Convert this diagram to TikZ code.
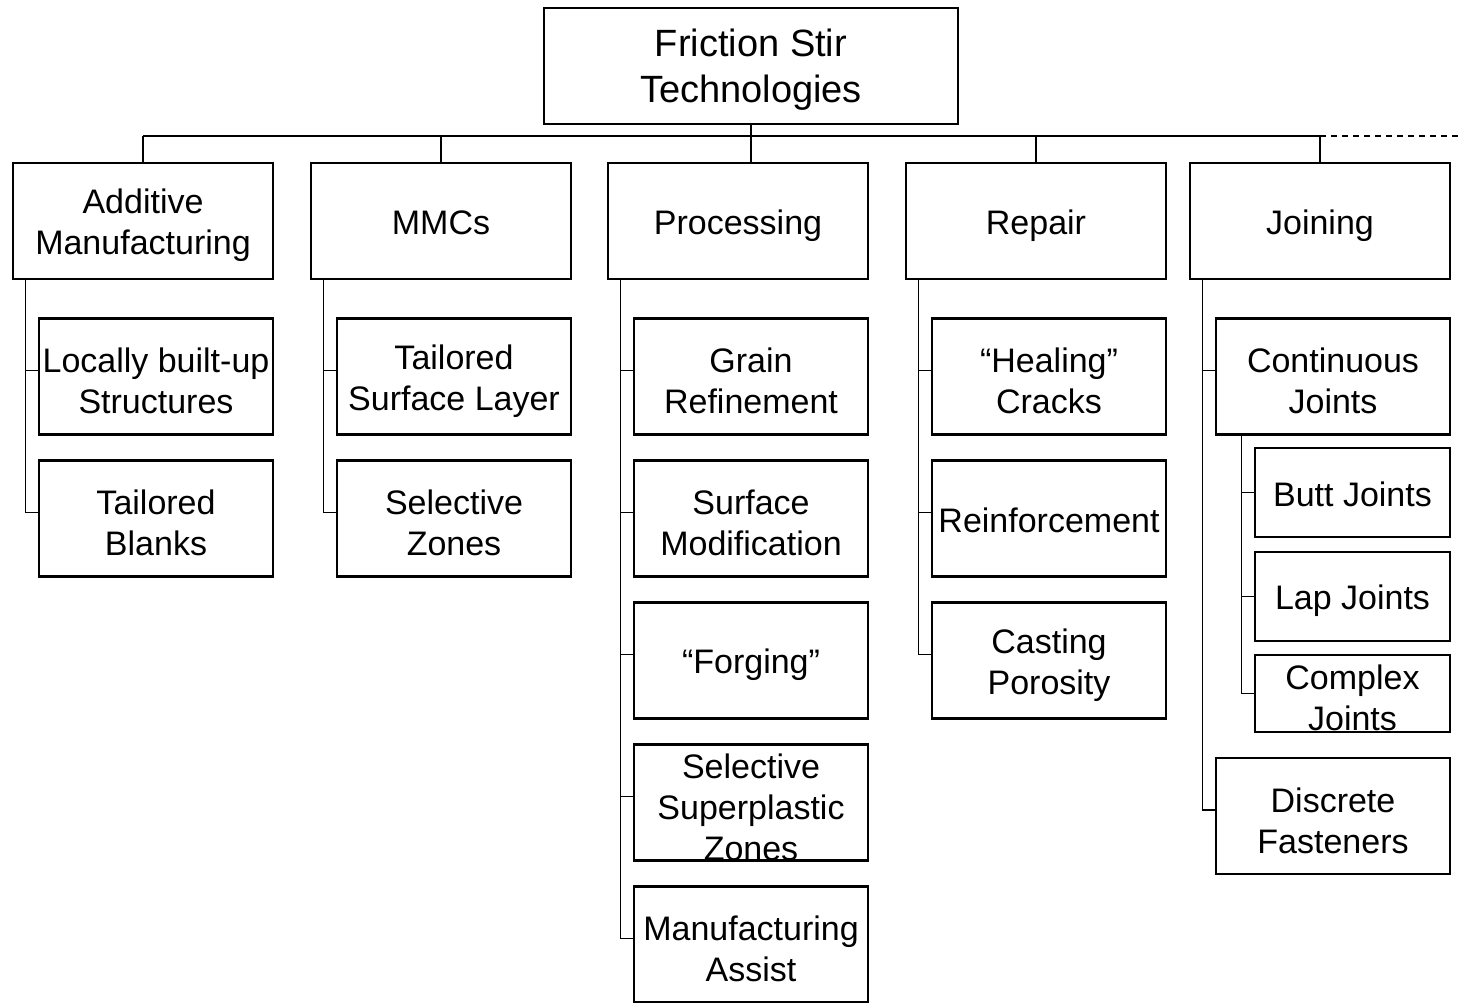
\documentclass[tikz,border=0pt]{standalone}
\usepackage{fontspec}
\setmainfont{Liberation Sans}
\begin{document}
\begin{tikzpicture}[x=1pt,y=-1pt,
  box/.style={draw=black, line width=2.6pt, rectangle, inner sep=0pt, minimum width=234pt, minimum height=116pt},
  topbox/.style={box, minimum width=414pt, minimum height=116pt},
  lvl/.style={box, minimum width=260pt, minimum height=116pt},
  sub/.style={box, minimum width=195pt},
  lbl/.style={inner sep=0pt, align=center, yshift=-4.5pt, font=\fontsize{34}{41}\selectfont},
  flat/.style={lbl, yshift=3pt},
  toplbl/.style={inner sep=0pt, align=center, yshift=-4pt, font=\fontsize{38}{46}\selectfont},
  conn/.style={draw=black, line width=1.3pt}]
\useasboundingbox (0,0) rectangle (1459,1003);
\fill[white] (0,0) rectangle (1459,1003);

% root
\node[topbox, label={[toplbl]center:Friction Stir\\Technologies}] (root) at (751,66) {};

% level 1
\node[lvl, label={[lbl]center:Additive\\Manufacturing}] (am) at (143,221) {};
\node[lvl, label={[flat]center:MMCs}] (mmc) at (441,221) {};
\node[lvl, label={[lbl]center:Processing}] (proc) at (738,221) {};
\node[lvl, label={[lbl]center:Repair}] (rep) at (1036,221) {};
\node[lvl, label={[lbl]center:Joining}] (join) at (1320,221) {};

% additive children
\node[box, label={[lbl]center:Locally built-up\\Structures}] (am1) at (156,376.5) {};
\node[box, label={[lbl]center:Tailored\\Blanks}] (am2) at (156,518.5) {};
% mmc children
\node[box, label={[lbl]center:Tailored\\Surface Layer}] (mmc1) at (454,376.5) {};
\node[box, label={[lbl]center:Selective\\Zones}] (mmc2) at (454,518.5) {};
% processing children
\node[box, label={[lbl]center:Grain\\Refinement}] (pr1) at (751,376.5) {};
\node[box, label={[lbl]center:Surface\\Modification}] (pr2) at (751,518.5) {};
\node[box, label={[lbl]center:“Forging”}] (pr3) at (751,660.5) {};
\node[box, label={[lbl]center:Selective\\Superplastic\\Zones}] (pr4) at (751,802.5) {};
\node[box, label={[lbl]center:Manufacturing\\Assist}] (pr5) at (751,944.5) {};
% repair children
\node[box, label={[lbl]center:“Healing”\\Cracks}] (re1) at (1049,376.5) {};
\node[box, label={[flat]center:Reinforcement}] (re2) at (1049,518.5) {};
\node[box, label={[lbl]center:Casting\\Porosity}] (re3) at (1049,660.5) {};
% joining children
\node[box, label={[lbl]center:Continuous\\Joints}] (jo1) at (1333,376.5) {};
\node[box, label={[lbl]center:Discrete\\Fasteners}] (jo2) at (1333,816) {};
\node[sub, minimum height=89pt, label={[flat]center:Butt Joints}] (js1) at (1352.5,492.5) {};
\node[sub, minimum height=89pt, label={[lbl]center:Lap Joints}] (js2) at (1352.5,596.5) {};
\node[sub, minimum height=77pt, label={[lbl]center:Complex\\Joints}] (js3) at (1352.5,693.5) {};

% top bus
\coordinate (hb) at (751,136);
\coordinate (dashend) at (1459,136);
\draw[conn] (root.south) -- (root.south |- proc.north);
\draw[conn] (am.north |- hb) -- (join.north |- hb);
\draw[conn, dashed, dash pattern=on 6pt off 5pt] (join.north |- hb) -- (dashend);
\foreach \n in {am,mmc,rep,join}
  \draw[conn] (\n.north |- hb) -- (\n.north);

% branch connectors
\draw[conn] ([xshift=14pt]am.south west) |- ([yshift=6pt]am2.west);
\draw[conn] ([xshift=14pt]am.south west) |- ([yshift=6pt]am1.west);
\draw[conn] ([xshift=14pt]mmc.south west) |- ([yshift=6pt]mmc2.west);
\draw[conn] ([xshift=14pt]mmc.south west) |- ([yshift=6pt]mmc1.west);
\draw[conn] ([xshift=14pt]proc.south west) |- ([yshift=6pt]pr5.west);
\foreach \c in {pr1,pr2,pr3,pr4}
  \draw[conn] ([xshift=14pt]proc.south west) |- ([yshift=6pt]\c.west);
\draw[conn] ([xshift=14pt]rep.south west) |- ([yshift=6pt]re3.west);
\foreach \c in {re1,re2}
  \draw[conn] ([xshift=14pt]rep.south west) |- ([yshift=6pt]\c.west);
\draw[conn] ([xshift=14pt]join.south west) |- ([yshift=6pt]jo2.west);
\draw[conn] ([xshift=14pt]join.south west) |- ([yshift=6pt]jo1.west);
\foreach \c in {js1,js2,js3}
  \draw[conn] ([xshift=27pt]jo1.south west) |- (\c.west);
\end{tikzpicture}
\end{document}
